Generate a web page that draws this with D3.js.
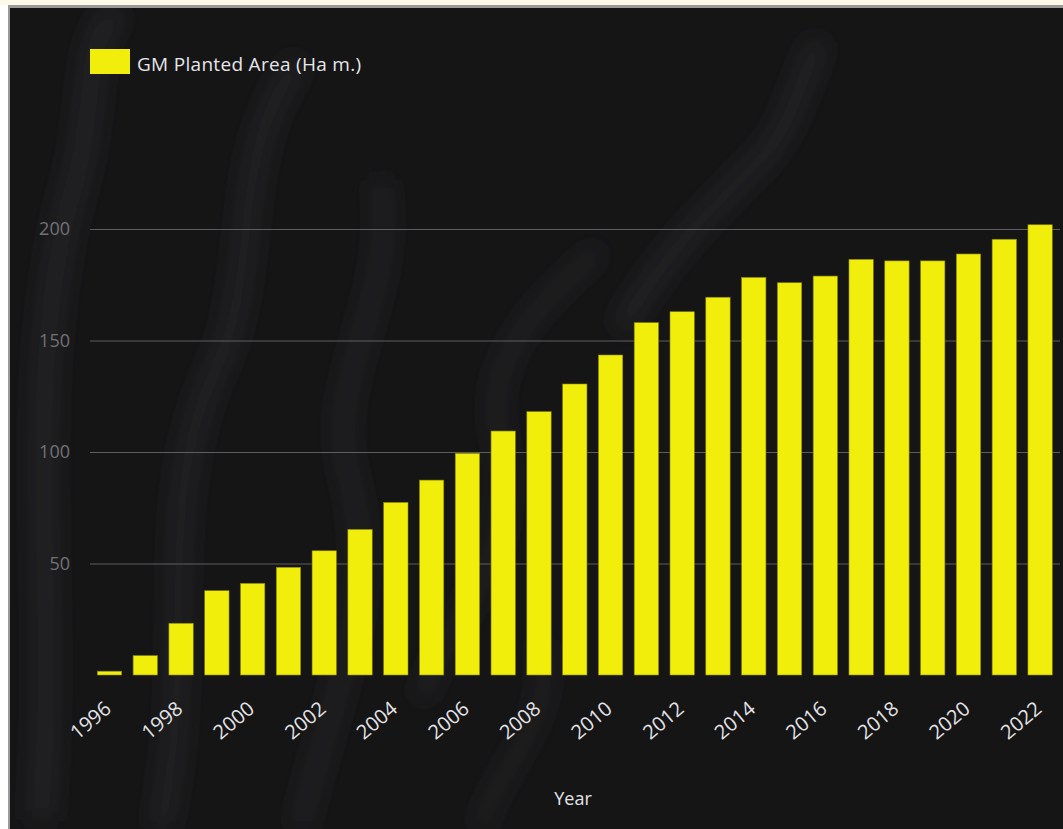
<!DOCTYPE html>
<html>
<head>
<meta charset="utf-8">
<script src="https://cdn.jsdelivr.net/npm/d3@7"></script>
<style>
  html, body { margin: 0; padding: 0; background: #ffffff; }
  svg { display: block; }
</style>
</head>
<body>
<svg id="chart" width="1063" height="829"></svg>
<script>
// ---- data ----
const years = [1996,1997,1998,1999,2000,2001,2002,2003,2004,2005,2006,2007,2008,2009,2010,2011,2012,2013,2014,2015,2016,2017,2018,2019,2020,2021,2022];
const areas = [1.7,8.7,23.2,37.8,41.1,48.3,55.7,65.3,77.4,87.4,99.4,109.4,118.1,130.5,143.5,158.0,162.9,169.4,178.3,175.9,178.9,186.4,185.7,185.7,188.8,195.4,201.9];
const yTicks = [50,100,150,200];
const xTickYears = [1996,1998,2000,2002,2004,2006,2008,2010,2012,2014,2016,2018,2020,2022];
const seriesName = "GM Planted Area (Ha m.)";
const xTitle = "Year";

const W = 1063, H = 829;
const svg = d3.select("#chart");

// ---- frame / background ----
svg.append("rect").attr("x",0).attr("y",0).attr("width",W).attr("height",H).attr("fill","#ffffff");
svg.append("rect").attr("x",0).attr("y",0).attr("width",W).attr("height",5).attr("fill","#fdfbe8");
svg.append("rect").attr("x",8).attr("y",5).attr("width",W-8).attr("height",H-5).attr("fill","#9a9a9a");
svg.append("rect").attr("x",10).attr("y",8).attr("width",W-10).attr("height",H-8).attr("fill","#151516");

const defs = svg.append("defs");
defs.append("filter").attr("id","blur").attr("x","-20%").attr("y","-20%").attr("width","140%").attr("height","140%")
  .append("feGaussianBlur").attr("stdDeviation",12);
const clip = defs.append("clipPath").attr("id","bgclip");
clip.append("rect").attr("x",10).attr("y",8).attr("width",W-10).attr("height",H-8);

// faint smoke-like texture
const smoke = svg.append("g").attr("clip-path","url(#bgclip)").append("g").attr("filter","url(#blur)")
  .attr("fill","none").attr("stroke","#3c3e46").attr("stroke-opacity",0.35);
const smokePaths = [
  "M40,820 C60,600 20,400 70,200 C100,100 80,40 120,10",
  "M160,829 C200,650 150,500 220,360 C260,260 230,150 300,60",
  "M300,829 C330,700 380,600 350,480 C320,380 400,300 380,180",
  "M420,700 C460,600 520,560 500,440 C480,360 540,300 600,250",
  "M620,330 C660,260 700,220 760,160 C790,130 800,80 820,40",
  "M480,829 C500,760 560,720 540,640"
];
smoke.selectAll("path").data(smokePaths).join("path")
  .attr("d", d => d).attr("stroke-width", (d,i) => [26,22,18,16,22,14][i]);

// ---- scales ----
const x = d3.scaleBand().domain(years).range([91.6, 1058]).paddingInner(0.32).paddingOuter(0.16);
const y = d3.scaleLinear().domain([0, 200]).range([675, 229]);

// ---- gridlines + y axis ----
const yAxis = d3.axisLeft(y).tickValues(yTicks).tickSize(-(1060 - 90)).tickPadding(20);
const gy = svg.append("g").attr("transform","translate(90,0)").call(yAxis);
gy.select(".domain").remove();
gy.selectAll(".tick line").attr("stroke","#5e5e62").attr("stroke-width",1.2);
gy.selectAll(".tick text").attr("fill","#727276").attr("font-family","'Open Sans', sans-serif").attr("font-size",18);

// ---- bars ----
svg.append("g").selectAll("rect").data(years).join("rect")
  .attr("x", d => x(d))
  .attr("width", x.bandwidth())
  .attr("y", (d,i) => y(areas[i]))
  .attr("height", (d,i) => y(0) - y(areas[i]))
  .attr("fill", "#f2ee0c")
  .attr("stroke", "#8a8600").attr("stroke-width", 0.6);

// ---- x axis ----
const xAxis = d3.axisBottom(x).tickValues(xTickYears).tickSize(0).tickPadding(0);
const gx = svg.append("g").attr("transform","translate(0,675)").call(xAxis);
gx.select(".domain").remove();
gx.selectAll(".tick text")
  .attr("fill","#e4e4e8")
  .attr("font-family","'Open Sans', sans-serif")
  .attr("font-size",20)
  .attr("text-anchor","end")
  .attr("dy",0)
  .attr("transform","translate(3,36) rotate(-40)");

// x title
svg.append("text").attr("x", 573).attr("y", 805).attr("text-anchor","middle")
  .attr("fill","#e4e4e8").attr("font-family","'Open Sans', sans-serif").attr("font-size",18)
  .text(xTitle);

// ---- legend ----
svg.append("rect").attr("x",90).attr("y",49).attr("width",40).attr("height",25).attr("fill","#f2ee0c");
svg.append("text").attr("x",137).attr("y",71).attr("fill","#e6e6ea")
  .attr("font-family","'Open Sans', sans-serif").attr("font-size",19).attr("letter-spacing",0.3).text(seriesName);
</script>
</body>
</html>
